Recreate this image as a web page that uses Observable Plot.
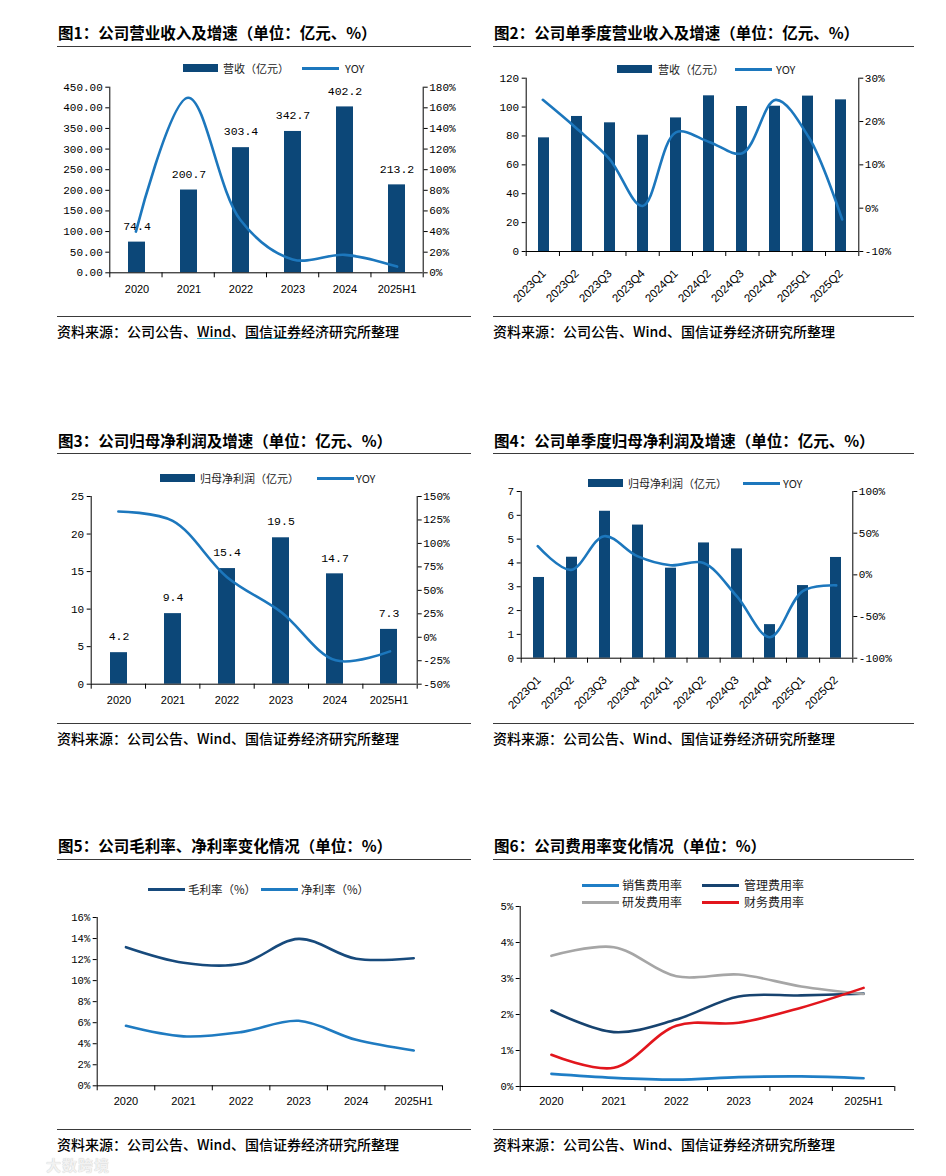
<!DOCTYPE html>
<html><head><meta charset="utf-8">
<script src="https://cdn.jsdelivr.net/npm/d3@7"></script>
<script src="https://cdn.jsdelivr.net/npm/@observablehq/plot@0.6"></script>
<style>
body{margin:0;background:#fff;}
#page{position:relative;width:946px;height:1176px;overflow:hidden;font-family:"Noto Sans CJK SC",sans-serif;color:#000;background:#fff;}
.abs{position:absolute;white-space:nowrap;}
.title{font-size:15.5px;font-weight:700;line-height:20px;}
.rule{height:0;border-top:1.5px solid #3a3a3a;}
.src{font-size:14px;line-height:18px;font-weight:500;}
.legtxt{font-size:11px;line-height:14px;color:#222;}
.u{text-decoration:underline;text-decoration-color:#39a9c9;}
svg{overflow:visible;}
</style></head><body><div id="page"></div>
<script>
// ---------- data ----------
const years = ["2020", "2021", "2022", "2023", "2024", "2025H1"];
const quarters = ["2023Q1", "2023Q2", "2023Q3", "2023Q4", "2024Q1", "2024Q2", "2024Q3", "2024Q4", "2025Q1", "2025Q2"];

const revenue = [74.4, 200.7, 303.4, 342.7, 402.2, 213.2];
const revenueYoy = [40, 169.8, 51.2, 13.0, 17.4, 6.0];

const qRevenue = [78.7, 93.5, 89.1, 80.5, 92.5, 107.8, 100.4, 100.6, 107.6, 105.0];
const qRevenueYoy = [25.0, 18.5, 11.4, 0.5, 17.5, 15.3, 12.7, 25.0, 16.3, -2.6];

const netProfit = [4.2, 9.4, 15.4, 19.5, 14.7, 7.3];
const netProfitYoy = [134, 124, 64, 26.6, -24.6, -15];

const qNetProfit = [3.39, 4.24, 6.17, 5.59, 3.78, 4.84, 4.59, 1.41, 3.05, 4.23];
const qNetProfitYoy = [34.4, 6, 46.4, 22.4, 11.5, 14.2, -25.6, -74.8, -19.3, -12.6];

const grossMargin = [13.18, 11.7, 11.6, 13.97, 12.07, 12.13];
const netMargin = [5.7, 4.7, 5.1, 6.18, 4.37, 3.36];

const sellingRate = [0.35, 0.24, 0.19, 0.26, 0.28, 0.23];
const adminRate = [2.11, 1.51, 1.86, 2.5, 2.53, 2.58];
const rdRate = [3.63, 3.87, 3.06, 3.11, 2.78, 2.57];
const financeRate = [0.88, 0.52, 1.69, 1.77, 2.19, 2.74];

const titles = [
  "图1：公司营业收入及增速（单位：亿元、%）",
  "图2：公司单季度营业收入及增速（单位：亿元、%）",
  "图3：公司归母净利润及增速（单位：亿元、%）",
  "图4：公司单季度归母净利润及增速（单位：亿元、%）",
  "图5：公司毛利率、净利率变化情况（单位：%）",
  "图6：公司费用率变化情况（单位：%）"
];
const sourceText = "资料来源：公司公告、Wind、国信证券经济研究所整理";

// ---------- style ----------
const BAR = "#0c4778";
const LINE = "#1c77bd";
const MONO = '"Liberation Mono", "DejaVu Sans Mono", monospace';
const SANS = '"Liberation Sans", Arial, "Noto Sans CJK SC", sans-serif';
const page = document.getElementById("page");

function add(html, cls, left, top, extra = "") {
  const d = document.createElement("div");
  d.className = "abs " + cls;
  d.style.cssText += `left:${left}px;top:${top}px;${extra}`;
  d.innerHTML = html;
  page.appendChild(d);
  return d;
}
function place(el, left, top) {
  el.style.position = "absolute";
  el.style.left = left + "px";
  el.style.top = top + "px";
  page.appendChild(el);
}

// panel frames: titles, rules, sources
const rowDy = [0, 407.5, 813];
const cols = [{tx: 58, r0: 57, r1: 471, sx: 57}, {tx: 494, r0: 493, r1: 914, sx: 493}];
titles.forEach((t, k) => {
  const c = cols[k % 2], dy = rowDy[Math.floor(k / 2)];
  add(t, "title", c.tx, 22 + dy);
  add("", "rule", c.r0, 45.5 + dy, `width:${c.r1 - c.r0}px`);
  add("", "rule", c.r0, 315.5 + dy, `width:${c.r1 - c.r0}px`);
  const src = k === 0
    ? '资料来源：公司公告、<span class="u">Wind</span>、<span class="u">国信证券</span>经济研究所整理'
    : sourceText;
  add(src, "src", c.sx, 321.5 + dy);
});

// legends
function legend(items, y, fs = 11) {
  for (const it of items) {
    if (it.kind === "bar") add("", "", it.x, y - 4, `width:35px;height:8px;background:${it.color}`);
    else add("", "", it.x, y - 1.5, `width:37px;height:3px;background:${it.color}`);
    add(it.label, "legtxt", it.tx, y - 8, `font-size:${fs}px;line-height:16px`);
  }
}

const baseStyle = {fontFamily: SANS, fontSize: "11px", color: "#000", background: "transparent", overflow: "visible"};

function margins(box, frame) {
  return {
    width: box.width, height: box.height,
    marginLeft: frame.x0 - box.left,
    marginRight: box.left + box.width - frame.x1,
    marginTop: frame.y0 - box.top,
    marginBottom: box.top + box.height - frame.y1
  };
}

function dualChart({box, frame, cats, bars, barDomain, barTicks, barFmt, barLabels, yoy, yoyDomain, yoyTicks, rotate}) {
  const m = margins(box, frame);
  const n = cats.length;
  const barData = cats.map((c, i) => ({c, v: bars[i]}));
  const A = Plot.plot({
    ...m, style: baseStyle,
    x: {type: "band", domain: cats, paddingInner: 0.68, paddingOuter: 0.34},
    y: {domain: barDomain},
    marks: [
      Plot.barY(barData, {x: "c", y: "v", fill: BAR}),
      barLabels ? Plot.text(barData, {x: "c", y: "v", text: d => d.v.toFixed(1), dy: -16, fontFamily: MONO, fontSize: 11.5, fill: "#000"}) : null,
      Plot.axisY({anchor: "left", ticks: barTicks, tickFormat: barFmt, tickSize: 4, tickPadding: 3, label: null, fontFamily: MONO, fontSize: 11}),
      rotate
        ? Plot.axisX({anchor: "bottom", tickSize: 0, tickPadding: 20, tickRotate: -45, label: null, fontSize: 11.5})
        : Plot.axisX({anchor: "bottom", tickSize: 0, tickPadding: 12, label: null, fontSize: 11})
    ]
  });
  const B = Plot.plot({
    ...m, style: baseStyle,
    x: {type: "linear", domain: [0, n]},
    y: {domain: yoyDomain},
    marks: [
      Plot.ruleX([0, n], {stroke: "#000", strokeWidth: 1}),
      Plot.ruleY([yoyDomain[0]], {stroke: "#000", strokeWidth: 1}),
      Plot.axisX({anchor: "bottom", ticks: d3.range(n + 1), tickFormat: () => "", tickSize: 5, label: null}),
      Plot.axisY({anchor: "right", ticks: yoyTicks, tickFormat: d => (d < 0 ? "-" : "") + Math.abs(d) + "%", tickSize: 4, tickPadding: 2, label: null, fontFamily: MONO, fontSize: 11}),
      Plot.lineY(yoy, {x: (d, i) => i + 0.5, y: d => d, curve: "catmull-rom", stroke: LINE, strokeWidth: 2.6})
    ]
  });
  place(A, box.left, box.top);
  place(B, box.left, box.top);
}

function lineChart({box, frame, cats, series, domain, ticks, fontSize}) {
  const m = margins(box, frame);
  const n = cats.length;
  const marks = [
    Plot.ruleX([0], {stroke: "#000"}),
    Plot.ruleY([domain[0]], {stroke: "#000"}),
    Plot.axisX({anchor: "bottom", ticks: d3.range(n + 1), tickFormat: () => "", tickSize: 5, label: null}),
    Plot.axisX({anchor: "bottom", ticks: d3.range(n).map(i => i + 0.5), tickFormat: d => cats[Math.floor(d)], tickSize: 0, tickPadding: 11, label: null, fontSize: 11}),
    Plot.axisY({anchor: "left", ticks, tickFormat: d => d + "%", tickSize: 4, tickPadding: 3, label: null, fontFamily: MONO, fontSize})
  ];
  for (const s of series) {
    marks.push(Plot.lineY(s.values, {x: (d, i) => i + 0.5, y: d => d, curve: "catmull-rom", stroke: s.color, strokeWidth: 2.6}));
  }
  const P = Plot.plot({...m, style: baseStyle, x: {type: "linear", domain: [0, n]}, y: {domain}, marks});
  place(P, box.left, box.top);
}

// ---------- Panel 1 ----------
dualChart({
  box: {left: 57, top: 76, width: 414, height: 230},
  frame: {x0: 109.3, x1: 422.7, y0: 86.7, y1: 272.3},
  cats: years, bars: revenue, barDomain: [0, 450], barTicks: d3.range(0, 451, 50), barFmt: d3.format(".2f"), barLabels: true,
  yoy: revenueYoy, yoyDomain: [0, 180], yoyTicks: d3.range(0, 181, 20)
});
legend([{kind: "bar", x: 183, tx: 223, color: BAR, label: "营收（亿元）"}, {kind: "line", x: 302, tx: 345, color: LINE, label: "YOY"}], 68);

// ---------- Panel 2 ----------
dualChart({
  box: {left: 493, top: 70, width: 421, height: 240},
  frame: {x0: 525.7, x1: 858.3, y0: 77.7, y1: 251},
  cats: quarters, bars: qRevenue, barDomain: [0, 120], barTicks: d3.range(0, 121, 20), barFmt: d => d, barLabels: false,
  yoy: qRevenueYoy, yoyDomain: [-10, 30], yoyTicks: d3.range(-10, 31, 10), rotate: true
});
legend([{kind: "bar", x: 617, tx: 658, color: BAR, label: "营收（亿元）"}, {kind: "line", x: 735, tx: 776, color: LINE, label: "YOY"}], 69);

// ---------- Panel 3 ----------
dualChart({
  box: {left: 57, top: 485, width: 414, height: 230},
  frame: {x0: 90.7, x1: 416.7, y0: 496, y1: 683.7},
  cats: years, bars: netProfit, barDomain: [0, 25], barTicks: d3.range(0, 26, 5), barFmt: d => d, barLabels: true,
  yoy: netProfitYoy, yoyDomain: [-50, 150], yoyTicks: d3.range(-50, 151, 25)
});
legend([{kind: "bar", x: 160, tx: 200, color: BAR, label: "归母净利润（亿元）"}, {kind: "line", x: 317, tx: 356, color: LINE, label: "YOY"}], 478);

// ---------- Panel 4 ----------
dualChart({
  box: {left: 493, top: 484, width: 421, height: 232},
  frame: {x0: 520.7, x1: 852.3, y0: 491, y1: 657.7},
  cats: quarters, bars: qNetProfit, barDomain: [0, 7], barTicks: d3.range(0, 8, 1), barFmt: d => d, barLabels: false,
  yoy: qNetProfitYoy, yoyDomain: [-100, 100], yoyTicks: d3.range(-100, 101, 50), rotate: true
});
legend([{kind: "bar", x: 588, tx: 628, color: BAR, label: "归母净利润（亿元）"}, {kind: "line", x: 743, tx: 783, color: LINE, label: "YOY"}], 483);

// ---------- Panel 5 ----------
lineChart({
  box: {left: 57, top: 906, width: 414, height: 214},
  frame: {x0: 96.7, x1: 442, y0: 917, y1: 1085.3},
  cats: years, domain: [0, 16], ticks: d3.range(0, 17, 2), fontSize: 10.5,
  series: [{values: grossMargin, color: "#174a7c"}, {values: netMargin, color: "#1f7bc1"}]
});
legend([{kind: "line", x: 148, tx: 188, color: "#174a7c", label: "毛利率（%）"}, {kind: "line", x: 261, tx: 301, color: "#1f7bc1", label: "净利率（%）"}], 889, 11.5);

// ---------- Panel 6 ----------
lineChart({
  box: {left: 493, top: 896, width: 421, height: 224},
  frame: {x0: 519.7, x1: 894.3, y0: 906, y1: 1086},
  cats: years, domain: [0, 5], ticks: d3.range(0, 6, 1), fontSize: 10.5,
  series: [
    {values: sellingRate, color: "#1f7ec6"},
    {values: adminRate, color: "#17436f"},
    {values: rdRate, color: "#a6a6a6"},
    {values: financeRate, color: "#e2161d"}
  ]
});
legend([
  {kind: "line", x: 582, tx: 622, color: "#1f7ec6", label: "销售费用率"},
  {kind: "line", x: 702, tx: 744, color: "#17436f", label: "管理费用率"}
], 885, 12);
legend([
  {kind: "line", x: 582, tx: 622, color: "#a6a6a6", label: "研发费用率"},
  {kind: "line", x: 702, tx: 744, color: "#e2161d", label: "财务费用率"}
], 902, 12);

// watermark
add("大数跨境", "", 46, 1156, "font-size:15px;font-weight:700;color:#f2f2f2;text-shadow:0 0 1px #bbb;line-height:17px;letter-spacing:1px");
</script>
</body></html>
